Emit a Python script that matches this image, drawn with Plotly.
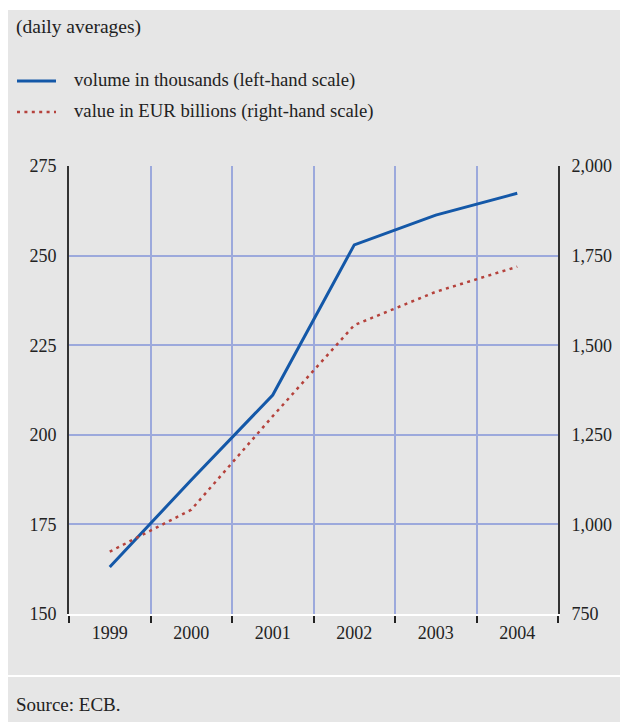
import plotly.graph_objects as go

years = [1999, 2000, 2001, 2002, 2003, 2004]
volume_thousands = [163.1, 187.4, 211.1, 253.0, 261.3, 267.4]
value_eur_bn = [924, 1041, 1302, 1556, 1649, 1719]
year_labels = ["1999", "2000", "2001", "2002", "2003", "2004"]
left_ticks = [150, 175, 200, 225, 250, 275]
right_ticks = [750, 1000, 1250, 1500, 1750, 2000]

# The page body has an 8px margin; the figure is sized to fill the rest.
OFF = 8
W, H = 628 - OFF, 722 - OFF
X0, X1, Y0, Y1 = 69 - OFF, 558 - OFF, 166 - OFF, 614 - OFF  # plot area in figure px
def px(x):
    return (x - OFF - X0) / (X1 - X0)
def py(y):
    return (Y1 - (y - OFF)) / (Y1 - Y0)

BG = "#e6e6e6"
GRID = "#9ca9dc"
BLUE = "#1458a8"
RED = "#b5423c"
FONT = "Liberation Serif"
TXT = "#222222"
FS = 18

fig = go.Figure()
fig.add_trace(go.Scatter(x=years, y=volume_thousands, mode="lines",
                         line=dict(color=BLUE, width=3), showlegend=False,
                         name="volume in thousands (left-hand scale)"))
fig.add_trace(go.Scatter(x=years, y=value_eur_bn, mode="lines", yaxis="y2",
                         line=dict(color=RED, width=2.5, dash="3px,4.4px"), showlegend=False,
                         name="value in EUR billions (right-hand scale)"))

shapes = []
# thin white strip at the very top of the panel and the white separator line
shapes.append(dict(type="rect", xref="paper", yref="paper", x0=px(0), x1=px(640),
                   y0=py(10), y1=py(0), fillcolor="white", line_width=0, layer="below"))
shapes.append(dict(type="line", xref="paper", yref="paper", x0=px(0), x1=px(640),
                   y0=py(676), y1=py(676), line=dict(color="white", width=2)))
# legend samples
shapes.append(dict(type="line", xref="paper", yref="paper", x0=px(17), x1=px(56),
                   y0=py(81), y1=py(81), line=dict(color=BLUE, width=3)))
shapes.append(dict(type="line", xref="paper", yref="paper", x0=px(17), x1=px(56),
                   y0=py(112), y1=py(112), line=dict(color=RED, width=2.5, dash="3px,4.4px")))

ann = []
def text(x, y, s, size=19):
    ann.append(dict(xref="paper", yref="paper", x=px(x), y=py(y), text=s, showarrow=False,
                    xanchor="left", yanchor="middle", font=dict(family=FONT, size=size, color=TXT)))
text(14, 27, "(daily averages)", 19.5)
text(72, 80, "volume in thousands (left-hand scale)", 18.7)
text(72, 111, "value in EUR billions (right-hand scale)", 18.7)
text(14, 704, "Source: ECB.", 19)

fig.update_layout(
    width=W, height=H,
    margin=dict(l=X0, r=W - X1, t=Y0, b=H - Y1, pad=0),
    paper_bgcolor=BG, plot_bgcolor=BG,
    shapes=shapes, annotations=ann,
    font=dict(family=FONT, size=FS, color=TXT),
    xaxis=dict(range=[1998.5, 2004.5], tickvals=years, ticktext=year_labels,
               ticks="", showgrid=False, zeroline=False,
               showline=True, linecolor="white", linewidth=2,
               ticklabelstandoff=1,
               minor=dict(tickvals=[1998.5, 1999.5, 2000.5, 2001.5, 2002.5, 2003.5, 2004.5],
                          ticks="outside", ticklen=7, tickwidth=2, tickcolor="#222",
                          showgrid=True, gridcolor=GRID, gridwidth=1.5)),
    yaxis=dict(range=[150, 275], tickvals=left_ticks, ticks="", showgrid=True,
               gridcolor=GRID, gridwidth=1.5, zeroline=False,
               showline=True, linecolor="#333", linewidth=2, ticklabelstandoff=7),
    yaxis2=dict(range=[750, 2000], tickvals=right_ticks, tickformat=",d", overlaying="y",
                side="right", ticks="", showgrid=False, zeroline=False,
                showline=True, linecolor="#333", linewidth=2, ticklabelstandoff=8),
)

fig.write_html("out.html")
